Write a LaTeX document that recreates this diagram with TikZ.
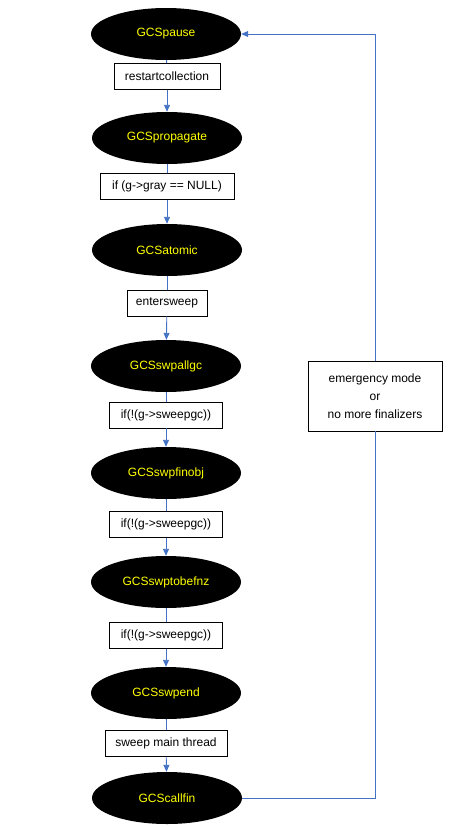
\documentclass[tikz,border=0pt]{standalone}
\usepackage{fontspec}
\setmainfont{Liberation Sans}
\usetikzlibrary{shapes.geometric,arrows.meta}
\definecolor{flowblue}{RGB}{68,114,196}
\definecolor{gcyellow}{RGB}{255,255,0}

\begin{document}
\begin{tikzpicture}[x=1pt,y=-1pt]
\tikzstyle{every node}+=[font=\fontsize{12}{18}\selectfont]
\tikzstyle{state}=[ellipse, fill=black, text=gcyellow, minimum width=150pt, minimum height=52pt, inner sep=0pt]
\tikzstyle{cond}=[draw=black, fill=white, line width=0.8pt, inner sep=0pt, minimum height=26pt]
\tikzstyle{flow}=[draw=flowblue, line width=0.9pt]
\tikzstyle{flowarr}=[flow, -{Triangle[width=6pt,length=7pt]}]
\useasboundingbox (0,0) rectangle (460,827);

\node [state] (pause) at (166,34) {GCSpause};
\node [cond, minimum width=106pt] (restart) at (167,76.5) {restartcollection};

\node [state] (propagate) at (167,138) {GCSpropagate};
\node [cond, minimum width=134pt] (gray) at (167,186.5) {if (g->gray == NULL)};

\node [state] (atomic) at (167,250) {GCSatomic};
\node [cond, minimum width=80pt] (enter) at (167,303) {entersweep};

\node [state] (allgc) at (166,366) {GCSswpallgc};
\node [cond, minimum width=113pt] (sweep1) at (166,415) {if(!(g->sweepgc))};

\node [state] (finobj) at (166,473) {GCSswpfinobj};
\node [cond, minimum width=113pt] (sweep2) at (166,524.5) {if(!(g->sweepgc))};

\node [state] (tobefnz) at (166,582) {GCSswptobefnz};
\node [cond, minimum width=113pt] (sweep3) at (166,635.5) {if(!(g->sweepgc))};

\node [state] (swpend) at (166,693) {GCSswpend};
\node [cond, minimum width=122pt] (mainth) at (166,743.5) {sweep main thread};

\node [state] (callfin) at (167,798) {GCScallfin};

\node [cond, minimum width=134pt, minimum height=70pt, align=center] (emerg) at (375,396)
  {emergency mode\\or\\no more finalizers};

% main chain
\draw [flow] (pause) -- (restart);
\draw [flowarr] (restart) -- (propagate);
\draw [flow] (propagate) -- (gray);
\draw [flowarr] (gray) -- (atomic);
\draw [flow] (atomic) -- (enter);
\draw [flowarr] (enter) -- (allgc);
\draw [flow] (allgc) -- (sweep1);
\draw [flowarr] (sweep1) -- (finobj);
\draw [flow] (finobj) -- (sweep2);
\draw [flowarr] (sweep2) -- (tobefnz);
\draw [flow] (tobefnz) -- (sweep3);
\draw [flowarr] (sweep3) -- (swpend);
\draw [flow] (swpend) -- (mainth);
\draw [flowarr] (mainth) -- (callfin);

% back to pause
\draw [flow] (callfin.east) -| (emerg.south);
\draw [flowarr] (emerg.north) |- (pause.east);
\end{tikzpicture}
\end{document}
